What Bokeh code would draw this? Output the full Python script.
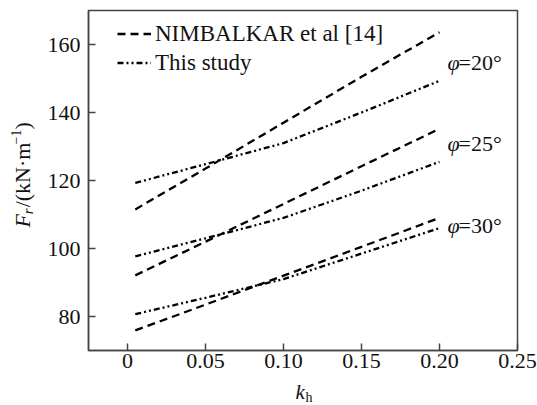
import math
from bokeh.plotting import figure
from bokeh.layouts import row, column
from bokeh.models import Label, Legend, LegendItem, FixedTicker, Range1d
from bokeh.embed import file_html
from bokeh.resources import INLINE

kh = [0.005, 0.05, 0.10, 0.15, 0.20]
nim_20 = [111.5, 123.5, 137.0, 150.5, 163.6]
nim_25 = [92.1, 102.0, 113.1, 124.2, 135.2]
nim_30 = [75.9, 83.5, 92.0, 100.5, 109.0]
ts_20 = [119.3, 124.8, 131.0, 140.0, 149.3]
ts_25 = [97.7, 103.0, 109.0, 117.0, 125.5]
ts_30 = [80.7, 85.5, 91.0, 98.5, 106.0]
x_ticks = [0, 0.05, 0.10, 0.15, 0.20, 0.25]
x_tick_labels = ["0", "0.05", "0.10", "0.15", "0.20", "0.25"]
y_ticks = [80, 100, 120, 140, 160]
phi_labels = ["=20°", "=25°", "=30°"]
phi_label_y = [154.7, 130.9, 106.8]

FONT = "Liberation Serif"
TXT = "#111111"

xr = Range1d(-0.025, 0.25)
yr = Range1d(70, 170)

p = figure(width=493, height=378, output_backend="svg", toolbar_location=None,
           x_range=xr, y_range=yr,
           min_border_left=44, min_border_right=20, min_border_top=10, min_border_bottom=28)
p.title.visible = False
p.grid.visible = False
p.outline_line_color = "#444444"
p.outline_line_width = 1.5

for ax in (p.xaxis[0], p.yaxis[0]):
    ax.axis_line_color = "#444444"
    ax.axis_line_width = 1.5
    ax.major_tick_line_color = "#444444"
    ax.major_tick_line_width = 1.5
    ax.major_tick_in = 7
    ax.major_tick_out = 0
    ax.minor_tick_line_color = None
    ax.major_label_text_font = FONT
    ax.major_label_text_font_size = "22px"
    ax.major_label_text_color = TXT

p.xaxis[0].ticker = FixedTicker(ticks=x_ticks)
p.xaxis[0].major_label_overrides = {t: l for t, l in zip(x_ticks, x_tick_labels)}
p.xaxis[0].major_label_standoff = 3
p.yaxis[0].ticker = FixedTicker(ticks=y_ticks)
p.yaxis[0].major_label_standoff = 8

DASH = "8 5"
DASHDOT = "6 3 2 3 2 3"
LW = 2.3
r_nim = [p.line(kh, s, line_color="black", line_width=LW, line_dash=DASH) for s in (nim_20, nim_25, nim_30)]
r_ts = [p.line(kh, s, line_color="black", line_width=LW, line_dash=DASHDOT) for s in (ts_20, ts_25, ts_30)]

legend = Legend(items=[LegendItem(label="NIMBALKAR et al [14]", renderers=[r_nim[0]]),
                       LegendItem(label="This study", renderers=[r_ts[0]])],
                location=(29, 273), padding=0, margin=0, spacing=0,
                glyph_width=34, glyph_height=29, label_height=29, label_standoff=4,
                label_text_font=FONT, label_text_font_size="23px", label_text_color=TXT,
                border_line_alpha=0, background_fill_alpha=0)
p.add_layout(legend)

for txt, yy in zip(phi_labels, phi_label_y):
    p.add_layout(Label(x=0.2052, y=yy, text="φ", text_font=FONT, text_font_style="italic",
                       text_font_size="22px", text_baseline="middle", text_color=TXT))
    p.add_layout(Label(x=0.2122, y=yy, text=txt, text_font=FONT,
                       text_font_size="22px", text_baseline="middle", text_color=TXT))

# y-axis title panel (shares the y range)
yl = figure(width=44, height=378, output_backend="svg", toolbar_location=None,
            x_range=Range1d(0, 44), y_range=yr,
            min_border_left=0, min_border_right=0, min_border_top=10, min_border_bottom=28)
yl.title.visible = False
yl.axis.visible = False
yl.grid.visible = False
yl.outline_line_color = None
a = math.pi / 2
for xx, yy, t, size, style in [(22, 106.2, "F", "22px", "italic"),
                               (27, 110.1, "r", "15px", "italic"),
                               (22, 112.1, "/(kN·m", "22px", "normal"),
                               (15, 130.6, "−1", "14px", "normal"),
                               (22, 135.0, ")", "22px", "normal")]:
    yl.add_layout(Label(x=xx, y=yy, text=t, angle=a, text_font=FONT, text_font_style=style,
                        text_font_size=size, text_baseline="middle", text_color=TXT))

# x-axis title panel (shares the x range)
xl = figure(width=537, height=27, output_backend="svg", toolbar_location=None,
            x_range=xr, y_range=Range1d(0, 27),
            min_border_left=88, min_border_right=20, min_border_top=0, min_border_bottom=0)
xl.title.visible = False
xl.axis.visible = False
xl.grid.visible = False
xl.outline_line_color = None
xl.add_layout(Label(x=0.1077, y=2, text="k", text_font=FONT, text_font_style="italic",
                    text_font_size="21px", text_baseline="bottom", text_color=TXT))
xl.add_layout(Label(x=0.1141, y=0.6, text="h", text_font=FONT,
                    text_font_size="14px", text_baseline="bottom", text_color=TXT))

layout = column(row(yl, p, spacing=0), xl, spacing=0)
open("out.html", "w").write(file_html(layout, INLINE))
